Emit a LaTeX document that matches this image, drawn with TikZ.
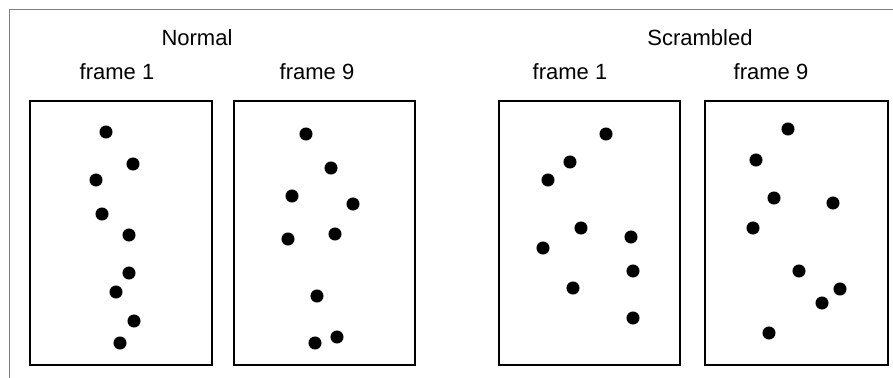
\documentclass[tikz,border=0pt]{standalone}
\usepackage{fontspec}
\setmainfont{Liberation Sans}
\begin{document}
\begin{tikzpicture}[x=0.75pt,y=-0.75pt,line width=1.5pt,
  lbl/.style={font=\fontsize{16.5}{20}\selectfont}]
\def\ytop{101}
\def\ybot{365}
\def\rdot{4.9pt}
\useasboundingbox (0,0) rectangle (893,378);
\draw[gray,line width=0.75pt] (9.5,378) -- (9.5,10) -- (893,10);
% the four frames
\draw (30,\ytop) rectangle (212,\ybot);
\draw (234,\ytop) rectangle (415,\ybot);
\draw (499,\ytop) rectangle (680,\ybot);
\draw (705,\ytop) rectangle (888,\ybot);
\node[lbl] (normal) at (197,38) {Normal};
\node[lbl] (scrambled) at (700,38) {Scrambled};
\node[lbl] (nf1) at (117,72) {frame 1};
\node[lbl] (nf9) at (317,72) {frame 9};
\node[lbl] (sf1) at (570,72) {frame 1};
\node[lbl] (sf9) at (771,72) {frame 9};
% dots
\foreach \x/\y in {106/132,133/164,96/180,102/214,129/235,129/273,116/292,134/321,120/343,
  306/134,331/168,292/196,353/204,288/239,335/234,317/296,337/337,315/343,
  606/134,570/162,548/180,581/228,631/237,543/248,633/271,573/288,633/318,
  788/129,756/160,774/198,833/203,753/228,799/271,840/289,822/303,769/333}
  \fill (\x,\y) circle[radius=\rdot];
\end{tikzpicture}
\end{document}
